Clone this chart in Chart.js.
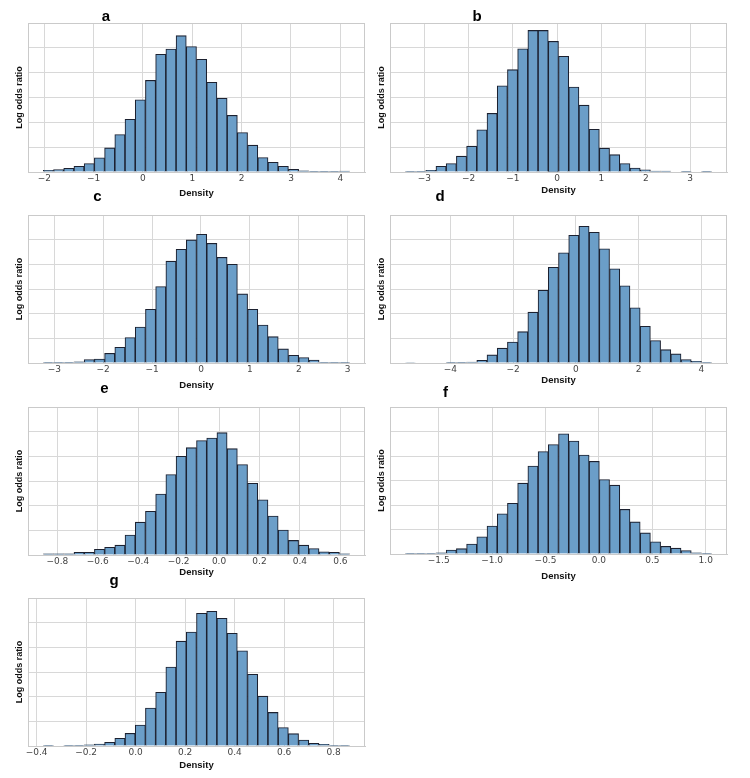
<!DOCTYPE html>
<html>
<head>
<meta charset="utf-8">
<script src="https://cdn.jsdelivr.net/npm/chart.js@4.4.0/dist/chart.umd.min.js"></script>
<style>
  html, body { margin: 0; padding: 0; background: #fff; }
  #page { position: relative; width: 750px; height: 778px; overflow: hidden; background: #fff; }
  #page canvas { position: absolute; }
  .panel-title {
    position: absolute;
    font: bold 15px "Liberation Sans", Arial, sans-serif;
    line-height: 15px;
    transform: translateX(-50%);
    color: #000;
  }
</style>
</head>
<body>
<div id="page"></div>
<script>
// bar heights, in units of the (unlabelled) horizontal grid spacing
const countsA = [0.07, 0.10, 0.15, 0.23, 0.34, 0.57, 0.97, 1.51, 2.12, 2.91, 3.69, 4.74, 4.95, 5.49, 5.05,
                 4.54, 3.61, 2.97, 2.28, 1.59, 1.08, 0.58, 0.39, 0.23, 0.11, 0.05, 0.03, 0.01, 0.01, 0.04];
const countsB = [0.03, 0.03, 0.07, 0.23, 0.34, 0.64, 1.04, 1.70, 2.36, 3.47, 4.12, 4.96, 5.70, 5.70, 5.26,
                 4.66, 3.42, 2.69, 1.72, 0.96, 0.70, 0.34, 0.16, 0.09, 0.04, 0.04, 0, 0.03, 0, 0.03];
const countsC = [0.01, 0.01, 0.01, 0.05, 0.14, 0.16, 0.39, 0.64, 1.03, 1.46, 2.18, 3.10, 4.13, 4.61, 4.99,
                 5.22, 4.85, 4.28, 4.00, 2.80, 2.18, 1.54, 1.07, 0.57, 0.31, 0.22, 0.12, 0.01, 0.01, 0.01];
const countsD = [0.02, 0, 0, 0, 0.01, 0.01, 0.04, 0.11, 0.33, 0.60, 0.85, 1.27, 2.06, 2.95, 3.88,
                 4.47, 5.18, 5.54, 5.30, 4.63, 3.82, 3.13, 2.24, 1.49, 0.91, 0.54, 0.37, 0.14, 0.07, 0.03];
const countsE = [0.05, 0.05, 0.05, 0.11, 0.11, 0.23, 0.31, 0.40, 0.81, 1.33, 1.77, 2.47, 3.26, 4.00, 4.35,
                 4.64, 4.74, 4.96, 4.31, 3.67, 2.91, 2.24, 1.58, 1.01, 0.59, 0.40, 0.26, 0.13, 0.11, 0.05];
const countsF = [0.03, 0.03, 0.03, 0.05, 0.16, 0.22, 0.41, 0.70, 1.14, 1.64, 2.07, 2.89, 3.59, 4.18, 4.47,
                 4.91, 4.61, 4.04, 3.78, 3.04, 2.81, 1.82, 1.31, 0.86, 0.50, 0.31, 0.24, 0.14, 0.05, 0.03];
const countsG = [0.03, 0, 0.01, 0.01, 0.05, 0.08, 0.15, 0.31, 0.51, 0.85, 1.54, 2.18, 3.20, 4.25, 4.62,
                 5.38, 5.46, 5.18, 4.57, 3.86, 2.91, 2.02, 1.36, 0.75, 0.50, 0.24, 0.11, 0.07, 0.03, 0.01];

// histogram bins: [first edge, bin width]
const binsA = [-2.02, 0.207];
const binsB = [-3.429, 0.2306];
const binsC = [-3.225, 0.2089];
const binsD = [-5.436, 0.3255];
const binsE = [-0.869, 0.0505];
const binsF = [-1.8125, 0.0956];
const binsG = [-0.373, 0.04126];

// x axis ranges
const rangeA = [-2.33, 4.50];
const rangeB = [-3.775, 3.835];
const rangeC = [-3.538, 3.354];
const rangeD = [-5.924, 4.818];
const rangeE = [-0.945, 0.722];
const rangeF = [-1.956, 1.199];
const rangeG = [-0.435, 0.927];

// tick labels
const ticksA = [-2, -1, 0, 1, 2, 3, 4];
const ticksB = [-3, -2, -1, 0, 1, 2, 3];
const ticksC = [-3, -2, -1, 0, 1, 2, 3];
const ticksD = [-4, -2, 0, 2, 4];
const ticksE = [-0.8, -0.6, -0.4, -0.2, 0.0, 0.2, 0.4, 0.6];
const ticksF = [-1.5, -1.0, -0.5, 0.0, 0.5, 1.0];
const ticksG = [-0.4, -0.2, 0.0, 0.2, 0.4, 0.6, 0.8];

const panelLetters = ["a", "b", "c", "d", "e", "f", "g"];
const xTitle = "Density";
const yTitle = "Log odds ratio";

const panels = [
  { counts: countsA, bins: binsA, range: rangeA, ticks: ticksA, decimals: 0 },
  { counts: countsB, bins: binsB, range: rangeB, ticks: ticksB, decimals: 0 },
  { counts: countsC, bins: binsC, range: rangeC, ticks: ticksC, decimals: 0 },
  { counts: countsD, bins: binsD, range: rangeD, ticks: ticksD, decimals: 0 },
  { counts: countsE, bins: binsE, range: rangeE, ticks: ticksE, decimals: 1 },
  { counts: countsF, bins: binsF, range: rangeF, ticks: ticksF, decimals: 1 },
  { counts: countsG, bins: binsG, range: rangeG, ticks: ticksG, decimals: 1 }
];

// where each plot area sits on the page
const layout = [
  { col: 0, top: 23,  bottom: 172, titleX: 106,   titleBase: 20.7,  xTitlePad: 1.3 },
  { col: 1, top: 23,  bottom: 172, titleX: 477,   titleBase: 20.7,  xTitlePad: 4 },
  { col: 0, top: 215, bottom: 363, titleX: 97.5,  titleBase: 200.7, xTitlePad: 0 },
  { col: 1, top: 215, bottom: 363, titleX: 440,   titleBase: 200.7, xTitlePad: 5 },
  { col: 0, top: 407, bottom: 555, titleX: 104.5, titleBase: 392.7, xTitlePad: 4.5 },
  { col: 1, top: 407, bottom: 554, titleX: 445.5, titleBase: 396.2, xTitlePad: 0.2 },
  { col: 0, top: 598, bottom: 746, titleX: 114,   titleBase: 584.3, xTitlePad: 3.3 }
];
const columns = [
  { canvasLeft: 0,   plotLeft: 28,  plotRight: 365, yTitlePad: 14.6 },
  { canvasLeft: 375, plotLeft: 390, plotRight: 727, yTitlePad: 1.3 }
];

const PAD = 4;
const X_AXIS_H = 28;
const GRID = "#d8d8d8";
const FRAME = "#cacaca";

function fmtTick(v, decimals) {
  const s = Math.abs(v).toFixed(decimals);
  return (v < -1e-9 ? "\u2212" : "") + s;
}

const framePlugin = {
  id: "frame",
  beforeDatasetsDraw(chart) {
    const { ctx, chartArea: a } = chart;
    ctx.save();
    ctx.strokeStyle = FRAME;
    ctx.lineWidth = 1;
    ctx.strokeRect(Math.round(a.left) + 0.5, Math.round(a.top) + 0.5,
                   Math.round(a.right - a.left) - 1, Math.round(a.bottom - a.top));
    ctx.restore();
  }
};

function makePanel(page, p, lay, letter) {
  const col = columns[lay.col];
  const canvas = document.createElement("canvas");
  canvas.width = col.plotRight + PAD - col.canvasLeft;
  canvas.height = lay.bottom + X_AXIS_H - (lay.top - PAD);
  canvas.style.left = col.canvasLeft + "px";
  canvas.style.top = (lay.top - PAD) + "px";
  page.appendChild(canvas);

  const title = document.createElement("div");
  title.className = "panel-title";
  title.textContent = letter;
  title.style.left = lay.titleX + "px";
  title.style.top = (lay.titleBase - 12.7) + "px";
  page.appendChild(title);

  const [start, width] = p.bins;
  const points = p.counts.map((h, i) => ({ x: start + width * (i + 0.5), y: h }));

  new Chart(canvas.getContext("2d"), {
    type: "bar",
    data: {
      datasets: [{
        data: points,
        backgroundColor: "#6b9ec8",
        borderColor: "#1c2130",
        borderWidth: 1.1,
        barPercentage: 1,
        categoryPercentage: 1
      }]
    },
    options: {
      responsive: false,
      animation: false,
      events: [],
      layout: { padding: { top: PAD, right: PAD, left: 0, bottom: 0 } },
      plugins: { legend: { display: false }, tooltip: { enabled: false } },
      scales: {
        x: {
          type: "linear",
          offset: false,
          min: p.range[0],
          max: p.range[1],
          bounds: "data",
          afterBuildTicks: scale => { scale.ticks = p.ticks.map(v => ({ value: v })); },
          afterFit: scale => { scale.height = X_AXIS_H; },
          grid: { color: GRID, drawTicks: false, offset: false },
          border: { color: FRAME },
          ticks: {
            padding: 1.5,
            color: "#444",
            font: { family: "DejaVu Sans", size: 9 },
            callback: v => fmtTick(v, p.decimals)
          },
          title: {
            display: true,
            text: xTitle,
            color: "#111",
            font: { family: "Liberation Sans", size: 9.5, weight: "bold" },
            padding: { top: 0, bottom: lay.xTitlePad }
          }
        },
        y: {
          min: 0,
          max: 6,
          afterFit: scale => { scale.width = col.plotLeft - col.canvasLeft; },
          grid: { color: GRID, drawTicks: false },
          border: { color: FRAME },
          ticks: { display: false, stepSize: 1 },
          title: {
            display: true,
            text: yTitle,
            color: "#111",
            font: { family: "Liberation Sans", size: 9, weight: "bold" },
            padding: { top: col.yTitlePad, bottom: 0 }
          }
        }
      }
    },
    plugins: [framePlugin]
  });
}

document.addEventListener("DOMContentLoaded", () => {
  const page = document.getElementById("page");
  panels.forEach((p, i) => makePanel(page, p, layout[i], panelLetters[i]));
});
</script>
</body>
</html>
